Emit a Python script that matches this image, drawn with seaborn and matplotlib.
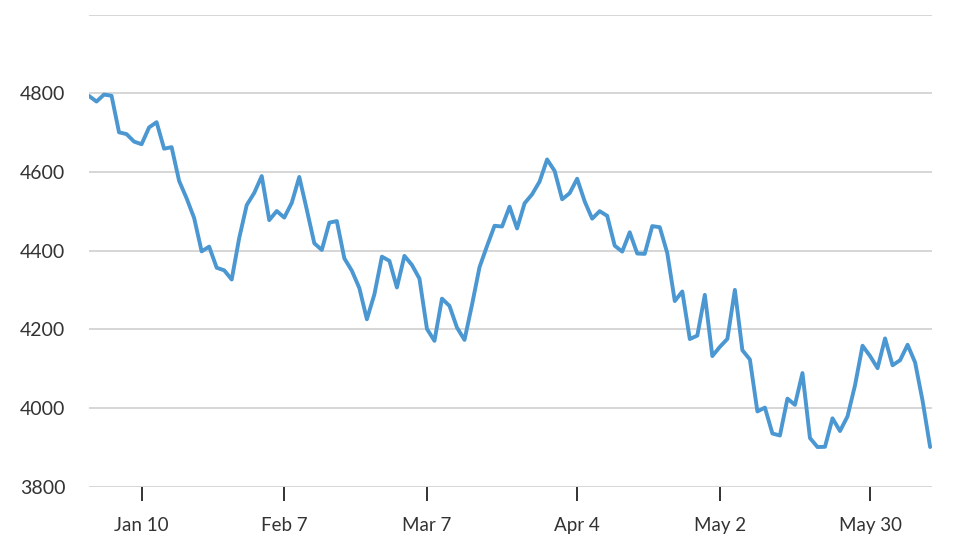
import numpy as np
import pandas as pd
import matplotlib
matplotlib.use("Agg")
import matplotlib.pyplot as plt
import seaborn as sns

# daily closes, one per trading day (Dec 31 and market holidays absent)
start_date = "2021-12-29"
end_date = "2022-06-10"
skipped_days = ["2021-12-31", "2022-01-17", "2022-02-21", "2022-04-15", "2022-05-30"]

close_dec = [4793.06, 4778.73]
close_jan = [4796.56, 4793.54, 4700.58, 4696.05, 4677.03, 4670.29, 4713.07, 4726.35,
             4659.03, 4662.85, 4577.11, 4532.76, 4482.73, 4397.94, 4410.13, 4356.45,
             4349.93, 4326.51, 4431.85, 4515.55]
close_feb = [4546.54, 4589.38, 4477.44, 4500.53, 4483.87, 4521.54, 4587.18, 4504.08,
             4418.64, 4401.67, 4471.07, 4475.01, 4380.26, 4348.87, 4304.76, 4225.50,
             4288.70, 4384.65, 4373.94]
close_mar = [4306.26, 4386.54, 4363.49, 4328.87, 4201.09, 4170.70, 4277.88, 4259.52,
             4204.31, 4173.11, 4262.45, 4357.86, 4411.67, 4463.12, 4461.18, 4511.61,
             4456.24, 4520.16, 4543.06, 4575.52, 4631.60, 4602.45, 4530.41]
close_apr = [4545.86, 4582.64, 4525.12, 4481.15, 4500.21, 4488.28, 4412.53, 4397.45,
             4446.59, 4392.59, 4391.69, 4462.21, 4459.45, 4393.66, 4271.78, 4296.12,
             4175.20, 4183.96, 4287.50, 4131.93]
close_may = [4155.38, 4175.48, 4300.17, 4146.87, 4123.34, 3991.24, 4001.05, 3935.18,
             3930.08, 4023.89, 4008.01, 4088.85, 3923.68, 3900.79, 3901.36, 3973.75,
             3941.48, 3978.73, 4057.84, 4158.24, 4132.15]
close_jun = [4101.23, 4176.82, 4108.54, 4121.43, 4160.68, 4115.77, 4017.82, 3900.86]

tick_dates = ["2022-01-10", "2022-02-07", "2022-03-07", "2022-04-04", "2022-05-02", "2022-05-30"]
tick_labels = ["Jan 10", "Feb 7", "Mar 7", "Apr 4", "May 2", "May 30"]
y_ticks = [3800, 4000, 4200, 4400, 4600, 4800, 5000]
y_labels = ["3800", "4000", "4200", "4400", "4600", "4800", ""]

line_color = "#4a97d2"
text_color = "#333333"
grid_color = "#d3d3d3"


def plot_index():
    dates = pd.bdate_range(start_date, end_date, freq="C", holidays=skipped_days)
    closes = close_dec + close_jan + close_feb + close_mar + close_apr + close_may + close_jun
    df = pd.DataFrame({"date": dates, "close": closes})
    # ordinal x axis: trading days sit evenly spaced
    df["pos"] = np.arange(len(df))

    sns.set_style("white")
    plt.rcParams["font.family"] = ["Lato", "DejaVu Sans"]

    fig = plt.figure(figsize=(9.54, 5.44), dpi=100)
    ax = fig.add_axes([89 / 954, 1 - 486.7 / 544, (932 - 89) / 954, (486.7 - 14.5) / 544])

    for y in y_ticks:
        ax.axhline(y, color=grid_color, lw=1.3, zorder=0)

    sns.lineplot(data=df, x="pos", y="close", color=line_color, lw=2.8, ax=ax)

    ax.set_xlim(0, 112.25)
    ax.set_ylim(3800, 5000)
    ax.set_yticks(y_ticks)
    ax.set_yticklabels(y_labels)
    ax.set_xticks(dates.searchsorted(pd.to_datetime(tick_dates)))
    ax.set_xticklabels(tick_labels)
    ax.tick_params(axis="y", left=False, length=0, pad=17, labelsize=14, labelcolor=text_color)
    ax.tick_params(axis="x", bottom=True, direction="out", length=10, width=1.4,
                   color=text_color, pad=12, labelsize=13.5, labelcolor=text_color)
    sns.despine(ax=ax, left=True, bottom=True, top=True, right=True)
    ax.set_xlabel("")
    ax.set_ylabel("")

    fig.savefig("out.png", dpi=100)


if __name__ == "__main__":
    plot_index()
